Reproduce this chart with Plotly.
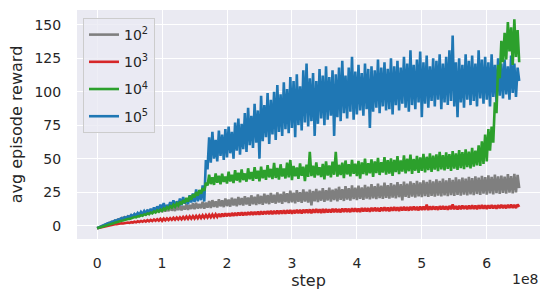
import plotly.graph_objects as go

# x positions in units of 1e8 environment steps, one sample every 0.025e8 steps
step_unit = 1e8
n_points = 261
steps = [i * 0.025 * step_unit for i in range(n_points)]

reward_1e2 = [
    -2.0, -1.4, -0.8, -0.3, 0.3, 0.8, 1.4, 1.8, 2.4, 2.8,
    3.2, 3.8, 4.0, 4.7, 4.8, 5.6, 5.5, 6.4, 6.1, 7.0,
    6.6, 7.8, 7.0, 8.4, 7.6, 9.0, 8.0, 9.6, 8.4, 10.2,
    8.6, 10.8, 9.0, 11.4, 9.4, 11.8, 9.8, 12.4, 10.0, 12.8,
    10.2, 13.4, 10.6, 13.0, 10.8, 14.2, 11.2, 13.8, 11.0, 14.8,
    11.6, 15.2, 11.4, 14.6, 12.0, 16.0, 11.8, 15.4, 12.4, 16.6,
    12.2, 17.0, 12.8, 16.2, 13.0, 17.8, 12.6, 17.2, 13.4, 18.4,
    13.2, 19.0, 14.0, 18.2, 13.6, 19.6, 14.4, 18.8, 13.8, 20.2,
    14.6, 19.4, 14.2, 20.8, 15.0, 20.0, 14.4, 21.4, 15.4, 20.6,
    15.0, 22.0, 15.8, 21.0, 14.8, 22.6, 16.0, 21.6, 15.4, 23.2,
    16.2, 22.2, 15.6, 23.8, 16.6, 22.8, 16.0, 24.4, 17.0, 23.0,
    16.4, 24.8, 17.2, 23.6, 16.2, 25.4, 17.6, 24.2, 16.8, 26.0,
    17.4, 24.6, 16.6, 26.4, 17.8, 25.0, 17.0, 27.0, 18.0, 25.4,
    17.2, 26.8, 15.2, 25.8, 18.2, 27.4, 17.6, 26.0, 18.6, 28.0,
    17.8, 26.4, 18.8, 28.4, 18.0, 26.8, 19.0, 27.6, 18.2, 29.0,
    19.2, 27.2, 18.4, 29.4, 19.4, 28.0, 18.6, 30.0, 19.8, 28.4,
    19.0, 29.8, 20.0, 28.6, 19.2, 30.4, 20.2, 29.0, 19.6, 31.0,
    20.4, 29.4, 19.8, 31.4, 20.6, 29.8, 20.0, 32.0, 20.8, 30.2,
    20.2, 31.8, 21.0, 30.6, 20.4, 32.4, 21.2, 31.0, 18.8, 32.8,
    21.4, 31.4, 20.8, 33.0, 21.6, 31.8, 21.0, 33.4, 21.8, 32.2,
    21.2, 33.8, 22.0, 32.6, 21.4, 34.2, 22.2, 33.0, 21.6, 34.6,
    22.4, 33.4, 21.8, 35.0, 22.6, 33.8, 22.0, 35.4, 22.8, 34.2,
    22.2, 36.0, 23.0, 34.6, 22.4, 35.8, 23.2, 35.0, 22.6, 36.4,
    23.4, 35.4, 22.8, 36.8, 23.6, 35.8, 23.0, 37.2, 23.8, 36.2,
    23.2, 37.6, 24.0, 36.4, 23.4, 38.0, 24.2, 36.8, 23.6, 37.4,
    24.4, 36.6, 23.8, 38.4, 24.6, 37.0, 24.0, 38.6, 24.8, 37.8,
    28.0,
]

reward_1e3 = [
    -2.0, -1.7, -1.3, -1.1, -0.7, -0.5, -0.1, 0.1, 0.4, 0.5,
    0.7, 1.0, 1.0, 1.4, 1.3, 1.7, 1.6, 2.0, 1.9, 2.3,
    2.0, 2.6, 2.3, 2.9, 2.5, 3.2, 2.7, 3.5, 2.9, 3.8,
    3.0, 4.1, 3.2, 4.3, 3.4, 4.6, 3.6, 4.8, 3.7, 5.1,
    3.6, 5.2, 3.9, 5.4, 4.1, 5.6, 4.3, 5.8, 4.4, 6.0,
    4.6, 6.2, 4.7, 6.5, 4.9, 6.7, 5.0, 6.9, 5.2, 7.1,
    5.3, 7.3, 5.5, 7.5, 5.7, 7.7, 5.8, 7.9, 6.0, 8.1,
    6.2, 8.3, 6.3, 8.5, 6.5, 8.7, 6.6, 8.9, 6.8, 9.1,
    7.0, 9.2, 7.1, 9.4, 7.3, 9.5, 7.4, 9.7, 7.6, 9.8,
    7.7, 9.9, 7.8, 10.1, 8.0, 10.2, 8.1, 10.3, 8.2, 10.5,
    8.2, 10.6, 8.3, 10.7, 8.5, 10.9, 8.6, 11.0, 8.6, 11.1,
    8.7, 11.2, 8.8, 11.3, 8.9, 11.4, 9.0, 11.5, 9.1, 11.6,
    8.9, 11.5, 9.2, 11.7, 9.3, 11.8, 9.1, 11.9, 9.4, 12.0,
    9.5, 12.1, 9.3, 12.2, 9.6, 12.3, 9.7, 12.1, 9.5, 12.4,
    9.7, 12.3, 9.9, 12.2, 9.8, 12.5, 10.0, 12.6, 10.1, 12.4,
    9.9, 12.7, 10.2, 12.8, 10.3, 12.6, 10.1, 12.9, 10.4, 13.0,
    10.3, 12.8, 10.2, 13.1, 10.5, 13.2, 10.6, 13.0, 10.4, 13.3,
    10.7, 13.4, 10.8, 13.2, 10.6, 13.5, 10.9, 13.6, 11.0, 13.4,
    10.8, 13.7, 11.1, 13.8, 11.2, 13.6, 11.0, 13.9, 11.3, 14.0,
    11.4, 13.8, 11.2, 14.1, 11.5, 14.2, 11.6, 14.0, 11.4, 14.3,
    11.6, 14.2, 11.8, 15.6, 11.6, 14.3, 11.9, 14.4, 12.0, 14.2,
    11.8, 14.5, 12.0, 14.6, 12.1, 14.4, 11.9, 14.7, 12.2, 15.8,
    12.2, 14.6, 12.0, 14.8, 12.3, 14.9, 12.4, 14.7, 12.2, 15.0,
    12.4, 15.1, 12.5, 14.9, 12.3, 15.2, 12.6, 15.3, 12.7, 15.1,
    12.5, 15.2, 12.8, 15.3, 12.9, 15.1, 12.7, 15.4, 13.0, 15.5,
    13.1, 15.3, 12.9, 15.6, 13.2, 15.7, 13.3, 15.5, 13.1, 15.8,
    14.0,
]

reward_1e4 = [
    -2.0, -1.6, -1.2, -0.8, -0.4, 0.0, 0.4, 0.8, 1.2, 1.5,
    1.8, 2.2, 2.6, 2.9, 3.2, 3.6, 3.8, 4.3, 4.4, 4.9,
    5.0, 5.6, 5.8, 6.4, 6.2, 7.0, 6.9, 7.8, 7.4, 8.4,
    8.0, 9.0, 8.6, 9.8, 9.2, 10.6, 9.8, 11.4, 10.4, 12.0,
    11.0, 12.8, 11.8, 13.8, 12.6, 14.6, 13.4, 15.6, 14.0, 16.6,
    15.0, 17.8, 16.0, 19.0, 17.0, 20.6, 18.0, 22.0, 19.4, 23.4,
    21.0, 25.0, 22.4, 26.6, 23.8, 28.0, 26.0, 32.0, 30.0, 38.0,
    31.0, 36.0, 30.4, 39.0, 32.0, 37.2, 30.8, 38.8, 32.6, 36.6,
    31.4, 40.2, 33.0, 38.0, 31.8, 41.4, 33.6, 39.4, 32.4, 42.0,
    34.0, 39.0, 32.8, 42.8, 34.6, 40.0, 33.4, 43.6, 35.0, 41.0,
    33.0, 44.0, 35.4, 41.6, 34.2, 45.2, 36.0, 42.4, 34.8, 46.8,
    35.6, 43.0, 34.4, 45.8, 36.6, 42.6, 35.2, 47.0, 36.0, 49.0,
    34.0, 44.6, 36.8, 43.4, 35.0, 46.4, 37.2, 44.0, 33.2, 45.6,
    36.4, 55.0, 37.0, 44.8, 35.8, 47.2, 37.6, 43.6, 36.2, 46.0,
    34.6, 48.0, 37.4, 45.0, 36.0, 47.8, 38.0, 55.0, 36.6, 45.4,
    37.8, 47.0, 35.4, 48.6, 38.2, 45.8, 36.8, 49.0, 38.6, 46.2,
    37.0, 48.4, 35.0, 47.2, 38.4, 50.0, 37.6, 46.6, 39.0, 49.4,
    36.4, 48.0, 39.2, 50.6, 37.8, 47.4, 39.6, 51.2, 38.0, 48.8,
    38.8, 50.2, 37.2, 49.0, 40.0, 51.8, 38.4, 48.6, 40.4, 52.4,
    39.0, 50.0, 40.6, 53.0, 38.6, 49.8, 41.0, 52.0, 39.4, 51.0,
    40.8, 53.6, 39.8, 51.4, 41.4, 54.0, 40.2, 52.2, 41.8, 53.2,
    40.6, 55.0, 42.0, 52.6, 41.2, 54.6, 42.4, 53.4, 40.8, 55.6,
    42.6, 54.0, 41.6, 56.4, 43.0, 54.8, 42.2, 57.0, 43.6, 55.2,
    42.8, 58.0, 44.0, 56.0, 45.0, 60.0, 44.6, 63.0, 46.0, 68.0,
    48.0, 72.0, 56.0, 74.0, 62.0, 92.0, 84.0, 120.0, 110.0, 138.0,
    122.0, 144.0, 124.0, 152.0, 130.0, 148.0, 120.0, 154.0, 126.0, 146.0,
    122.0,
]

reward_1e5 = [
    -2.0, -1.4, -0.9, -0.2, 0.1, 0.9, 1.1, 1.9, 2.0, 2.9,
    2.8, 3.8, 3.5, 4.6, 4.2, 5.5, 4.8, 6.2, 5.6, 6.9,
    6.2, 7.8, 6.9, 8.6, 7.4, 9.4, 8.0, 10.2, 8.6, 10.9,
    9.0, 11.8, 9.6, 12.5, 10.4, 13.6, 10.8, 14.4, 11.4, 15.6,
    12.0, 16.8, 12.6, 15.4, 13.2, 17.6, 13.8, 18.8, 14.0, 18.2,
    15.0, 20.2, 15.2, 21.4, 16.4, 19.8, 16.0, 22.6, 17.2, 24.0,
    17.6, 27.0, 18.2, 25.4, 19.0, 30.0, 18.0, 49.0, 42.0, 66.0,
    47.0, 70.0, 50.0, 64.0, 48.0, 71.0, 52.0, 68.0, 49.0, 72.0,
    51.0, 74.0, 54.0, 70.0, 50.0, 77.0, 56.0, 80.0, 53.0, 76.0,
    57.0, 84.0, 55.0, 88.0, 60.0, 82.0, 58.0, 91.0, 62.0, 86.0,
    50.0, 97.0, 63.0, 90.0, 66.0, 99.0, 61.0, 94.0, 68.0, 100.0,
    64.0, 105.0, 70.0, 98.0, 67.0, 107.0, 72.0, 102.0, 69.0, 111.0,
    73.0, 108.0, 66.0, 113.0, 75.0, 104.0, 71.0, 116.0, 77.0, 121.0,
    74.0, 110.0, 78.0, 114.0, 67.0, 108.0, 76.0, 117.0, 80.0, 112.0,
    75.0, 119.0, 79.0, 111.0, 82.0, 116.0, 67.0, 113.0, 81.0, 118.0,
    78.0, 123.0, 84.0, 112.0, 80.0, 118.0, 85.0, 126.0, 79.0, 115.0,
    83.0, 120.0, 86.0, 114.0, 82.0, 121.0, 87.0, 117.0, 73.0, 119.0,
    85.0, 116.0, 88.0, 124.0, 84.0, 118.0, 89.0, 122.0, 86.0, 117.0,
    87.0, 125.0, 83.0, 119.0, 90.0, 123.0, 86.0, 118.0, 91.0, 126.0,
    88.0, 121.0, 85.0, 131.0, 90.0, 120.0, 87.0, 124.0, 92.0, 130.0,
    81.0, 122.0, 91.0, 127.0, 88.0, 119.0, 93.0, 125.0, 89.0, 123.0,
    94.0, 128.0, 87.0, 121.0, 92.0, 126.0, 90.0, 131.0, 93.0, 142.0,
    89.0, 122.0, 81.0, 125.0, 92.0, 120.0, 88.0, 128.0, 94.0, 123.0,
    90.0, 127.0, 93.0, 121.0, 89.0, 131.0, 95.0, 124.0, 91.0, 126.0,
    94.0, 122.0, 89.0, 128.0, 96.0, 120.0, 92.0, 125.0, 97.0, 121.0,
    95.0, 124.0, 98.0, 119.0, 94.0, 127.0, 99.0, 121.0, 96.0, 118.0,
    108.0,
]

series_names = ["10<sup>2</sup>", "10<sup>3</sup>", "10<sup>4</sup>", "10<sup>5</sup>"]
series_values = [reward_1e2, reward_1e3, reward_1e4, reward_1e5]
series_colors = ["#7f7f7f", "#d62728", "#2ca02c", "#1f77b4"]
draw_order = [0, 1, 3, 2]

x_tick_vals = [0, 1e8, 2e8, 3e8, 4e8, 5e8, 6e8]
x_tick_text = ["0", "1", "2", "3", "4", "5", "6"]
y_tick_vals = [0, 25, 50, 75, 100, 125, 150]

text_color = "#262626"
fig = go.Figure()
for idx in draw_order:
    fig.add_trace(go.Scatter(
        x=steps, y=series_values[idx], mode="lines",
        name=series_names[idx], legendrank=idx + 1, legendgroup=str(idx),
        line=dict(color=series_colors[idx], width=2.6),
    ))

fig.update_layout(
    width=550, height=302,
    margin=dict(l=77, r=10, t=9.5, b=63),
    paper_bgcolor="white", plot_bgcolor="#EAEAF2",
    font=dict(family="DejaVu Sans", size=14, color=text_color),
    showlegend=True,
    legend=dict(
        x=0.013, y=0.965, xanchor="left", yanchor="top",
        bgcolor="rgba(234,234,242,0.8)", bordercolor="#cccccc", borderwidth=1,
        font=dict(size=14, color=text_color), tracegroupgap=6,
        traceorder="grouped",
    ),
)
fig.update_xaxes(
    range=[-0.31e8, 6.82e8], tickvals=x_tick_vals, ticktext=x_tick_text,
    showgrid=True, gridcolor="white", gridwidth=1.3, zeroline=False,
    ticks="outside", ticklen=11, tickcolor="rgba(0,0,0,0)",
    tickfont=dict(size=14, color=text_color), automargin=False,
    title=dict(text="step", font=dict(size=16, color=text_color), standoff=5),
    showline=False,
)
fig.update_yaxes(
    range=[-10, 161], tickvals=y_tick_vals,
    showgrid=True, gridcolor="white", gridwidth=1.3, zeroline=False,
    ticks="outside", ticklen=12, tickcolor="rgba(0,0,0,0)",
    tickfont=dict(size=14, color=text_color), automargin=False,
    title=dict(text="avg episode reward", font=dict(size=16, color=text_color), standoff=7),
    showline=False,
)
fig.add_annotation(
    text="1e8", xref="paper", yref="paper", x=1.0, y=-0.174,
    xanchor="right", yanchor="middle", showarrow=False,
    font=dict(size=14, color=text_color),
)
fig.write_html(
    "out.html",
    config={"displayModeBar": False},
    post_script="document.body.style.margin='0';document.body.style.overflow='hidden';",
)
